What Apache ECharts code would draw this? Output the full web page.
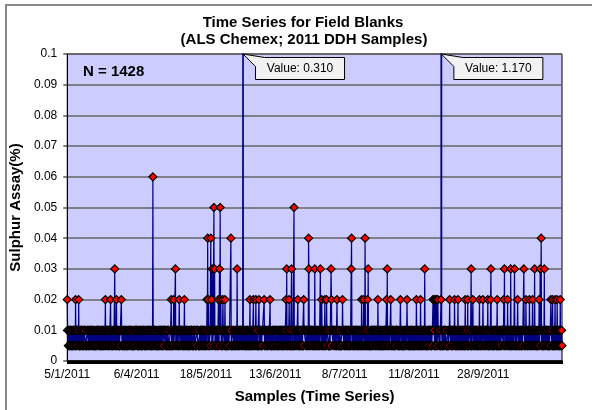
<!DOCTYPE html>
<html><head><meta charset="utf-8">
<script src="https://cdn.jsdelivr.net/npm/echarts@6/dist/echarts.min.js"></script>
<style>html,body{margin:0;padding:0;background:#fff}#c{width:592px;height:410px}</style>
</head><body><div id="c"></div>
<script>
// ---- data ----
const tickLabels = ['5/1/2011', '6/4/2011', '18/5/2011', '13/6/2011', '8/7/2011', '11/8/2011', '28/9/2011'];
const tickEvery = 200;
// baseline results per sample: 0 = 0.005 (half detection limit), 1 = 0.01
const baselineCodes = `
01101 10010 11001 00110 10101 01011 11010 00101 10110 01001
11100 00011 10011 01100 11011 00100 10001 01110 11101 00010
10110 01101 00101 11010 01011 10010 00110 11001 01001 10101
00011 11100 01100 10011 00100 11011 01110 10001 00010 11101
11010 00101 10101 01001 11001 00110 01011 10110 10010 01101
01110 10001 00100 11011 01100 10011 11101 00010 11100 00011
10010 01101 11001 10110 00101 01011 10101 00110 01001 11010
00100 11011 10001 01110 00011 11100 00010 11101 10011 01100
01011 10101 00110 11001 01101 10010 11010 00101 10110 01001
11101 00010 01100 10011 11100 00011 10001 01110 00100 11011
10101 01001 11010 00101 10010 01101 00110 11001 01011 10110
00010 11101 00011 11100 01110 10001 11011 00100 01100 10011
11001 00110 01011 10110 01001 10101 10010 01101 11010 00101
10001 01110 11011 00100 10011 01100 00011 11100 11101 00010
01101 11010 10010 00101 10110 01011 01001 10101 00110 11001
11100 00100 00011 11011 01110 10011 10001 01100 00010 11101
00110 10101 11001 01001 01011 10010 10110 11010 01101 00101
01100 11101 10011 00010 10001 00011 01110 11100 11011 00100
10110 01001 00101 10101 11010 11001 01101 00110 10010 01011
11011 00010 01110 10001 00100 11101 11100 10011 00011 01100
01001 10110 10101 00101 11001 01101 00110 10010 01011 11010
10011 01100 00100 11011 11101 00010 10001 01110 11100 00011
00101 11010 01011 10110 10010 01001 11001 10101 01101 00110
01110 10001 11100 00011 00010 11101 01100 10011 00100 11011
11010 01101 10110 01001 00110 10101 00101 11001 10010 01011
00011 11100 10001 01110 11011 00100 10011 01100 11101 00010
10101 00110 01001 11010 01011 10010 11001 00101 01101 10110
01100 10011 00010 11101 00100 11011 01110 10001 00011 11100
10010 01101 11001 00110 10101 010`;
const baseLowValue = 0.005;
const baseHighValue = 0.01;
// sample indices with higher results
const idx002 = [0, 24, 33, 110, 125, 142, 156, 300, 307, 323, 338, 403, 407, 416, 436, 443, 449, 455, 527, 537, 544, 553, 568, 585, 631, 640, 665, 682, 734, 743, 748, 762, 778, 794, 849, 855, 866, 896, 921, 933, 961, 980, 1007, 1019, 1055, 1058, 1062, 1066, 1069, 1078, 1103, 1117, 1127, 1148, 1155, 1170, 1189, 1199, 1213, 1221, 1240, 1259, 1270, 1299, 1323, 1333, 1342, 1361, 1395, 1400, 1407, 1413, 1422];
const idx003 = [137, 312, 418, 425, 439, 490, 633, 647, 697, 714, 730, 761, 819, 868, 923, 1031, 1165, 1222, 1261, 1279, 1290, 1317, 1348, 1364, 1376];
const idx004 = [405, 414, 472, 696, 820, 859, 1367];
const idx005 = [423, 441, 654];
const idx006 = [247];
const spikes = [[507, 0.31], [1079, 1.17]];
const nLabel = 'N = 1428';

// ---- build series ----
const values = baselineCodes.replace(/\s/g, '').split('').map(c => c === '1' ? baseHighValue : baseLowValue);
[[idx002, 0.02], [idx003, 0.03], [idx004, 0.04], [idx005, 0.05], [idx006, 0.06]].forEach(([arr, v]) => arr.forEach(i => { values[i] = v; }));
spikes.forEach(([i, v]) => { values[i] = v; });
const categories = values.map((_, i) => String(i + 1));

const FONT = '"Liberation Sans", Arial, sans-serif';
const yMax = 0.1;
const chart = echarts.init(document.getElementById('c'), null, {renderer: 'canvas'});
chart.setOption({
  animation: false,
  backgroundColor: '#fff',
  grid: {left: 67, right: 30, top: 54, bottom: 49, show: true, backgroundColor: '#CCCCFF', borderColor: '#000', borderWidth: 1},
  xAxis: {
    type: 'category', data: categories, boundaryGap: false,
    name: 'Samples (Time Series)', nameLocation: 'middle', nameGap: 28,
    nameTextStyle: {fontFamily: FONT, fontWeight: 'bold', fontSize: 15, color: '#000'},
    axisLine: {lineStyle: {color: '#000', width: 1.5}},
    axisTick: {show: true, interval: 0, length: 3, lineStyle: {color: '#000', width: 1}},
    axisLabel: {
      interval: (i) => i % tickEvery === 0 && (i / tickEvery) < tickLabels.length,
      formatter: (v, i) => tickLabels[i / tickEvery] || '',
      fontFamily: FONT, fontSize: 12, color: '#000', margin: 8
    },
    splitLine: {show: false}
  },
  yAxis: {
    type: 'value', min: 0, max: yMax, interval: 0.01,
    name: 'Sulphur Assay(%)', nameLocation: 'middle', nameGap: 41, nameRotate: 90,
    nameTextStyle: {fontFamily: FONT, fontWeight: 'bold', fontSize: 15, color: '#000'},
    axisLine: {show: true, lineStyle: {color: '#000', width: 1}},
    axisTick: {show: true, length: 4, lineStyle: {color: '#555', width: 1.5}},
    axisLabel: {formatter: v => String(+v.toFixed(2)), fontFamily: FONT, fontSize: 12, color: '#000', margin: 10},
    splitLine: {lineStyle: {color: '#666', width: 1.5}}
  },
  series: [{
    type: 'line', data: values, clip: true,
    showAllSymbol: true, symbol: 'diamond', symbolSize: 8,
    itemStyle: {color: '#FF0000', borderColor: '#000', borderWidth: 1.2},
    lineStyle: {color: '#000080', width: 1.2},
    emphasis: {disabled: true}
  }]
});

const graphics = [
  {type: 'rect', shape: {x: 6, y: 5, width: 620, height: 440}, style: {fill: 'none', stroke: '#888', lineWidth: 2}, silent: true, z: 100},
  {type: 'text', style: {text: 'Time Series for Field Blanks', x: 303, y: 23, textAlign: 'center', verticalAlign: 'middle', textVerticalAlign: 'middle', font: 'bold 15px ' + FONT, fill: '#000'}, z: 100},
  {type: 'text', style: {text: '(ALS Chemex; 2011 DDH Samples)', x: 304, y: 40, textAlign: 'center', verticalAlign: 'middle', textVerticalAlign: 'middle', font: 'bold 15px ' + FONT, fill: '#000'}, z: 100},
  {type: 'text', style: {text: nLabel, x: 83, y: 72, textAlign: 'left', verticalAlign: 'middle', textVerticalAlign: 'middle', font: 'bold 15px ' + FONT, fill: '#000'}, z: 100}
];
spikes.forEach(([i, v]) => {
  const p = chart.convertToPixel({xAxisIndex: 0, yAxisIndex: 0}, [i, yMax]);
  const bx = p[0] + 12.5, by = 57.5, bw = 89, bh = 22;
  graphics.push({type: 'polygon', shape: {points: [[p[0], p[1]], [bx + 9, by], [bx + bw, by], [bx + bw, by + bh], [bx, by + bh], [bx, by + 9]]},
    style: {fill: '#F2F2F2', stroke: '#000', lineWidth: 1}, z: 100});
  graphics.push({type: 'text', style: {text: 'Value: ' + v.toFixed(3), x: bx + bw / 2, y: by + bh / 2 + 0.5, textAlign: 'center', verticalAlign: 'middle', textVerticalAlign: 'middle', font: '12px ' + FONT, fill: '#000'}, z: 101});
});
chart.setOption({graphic: graphics});
</script>
</body></html>
